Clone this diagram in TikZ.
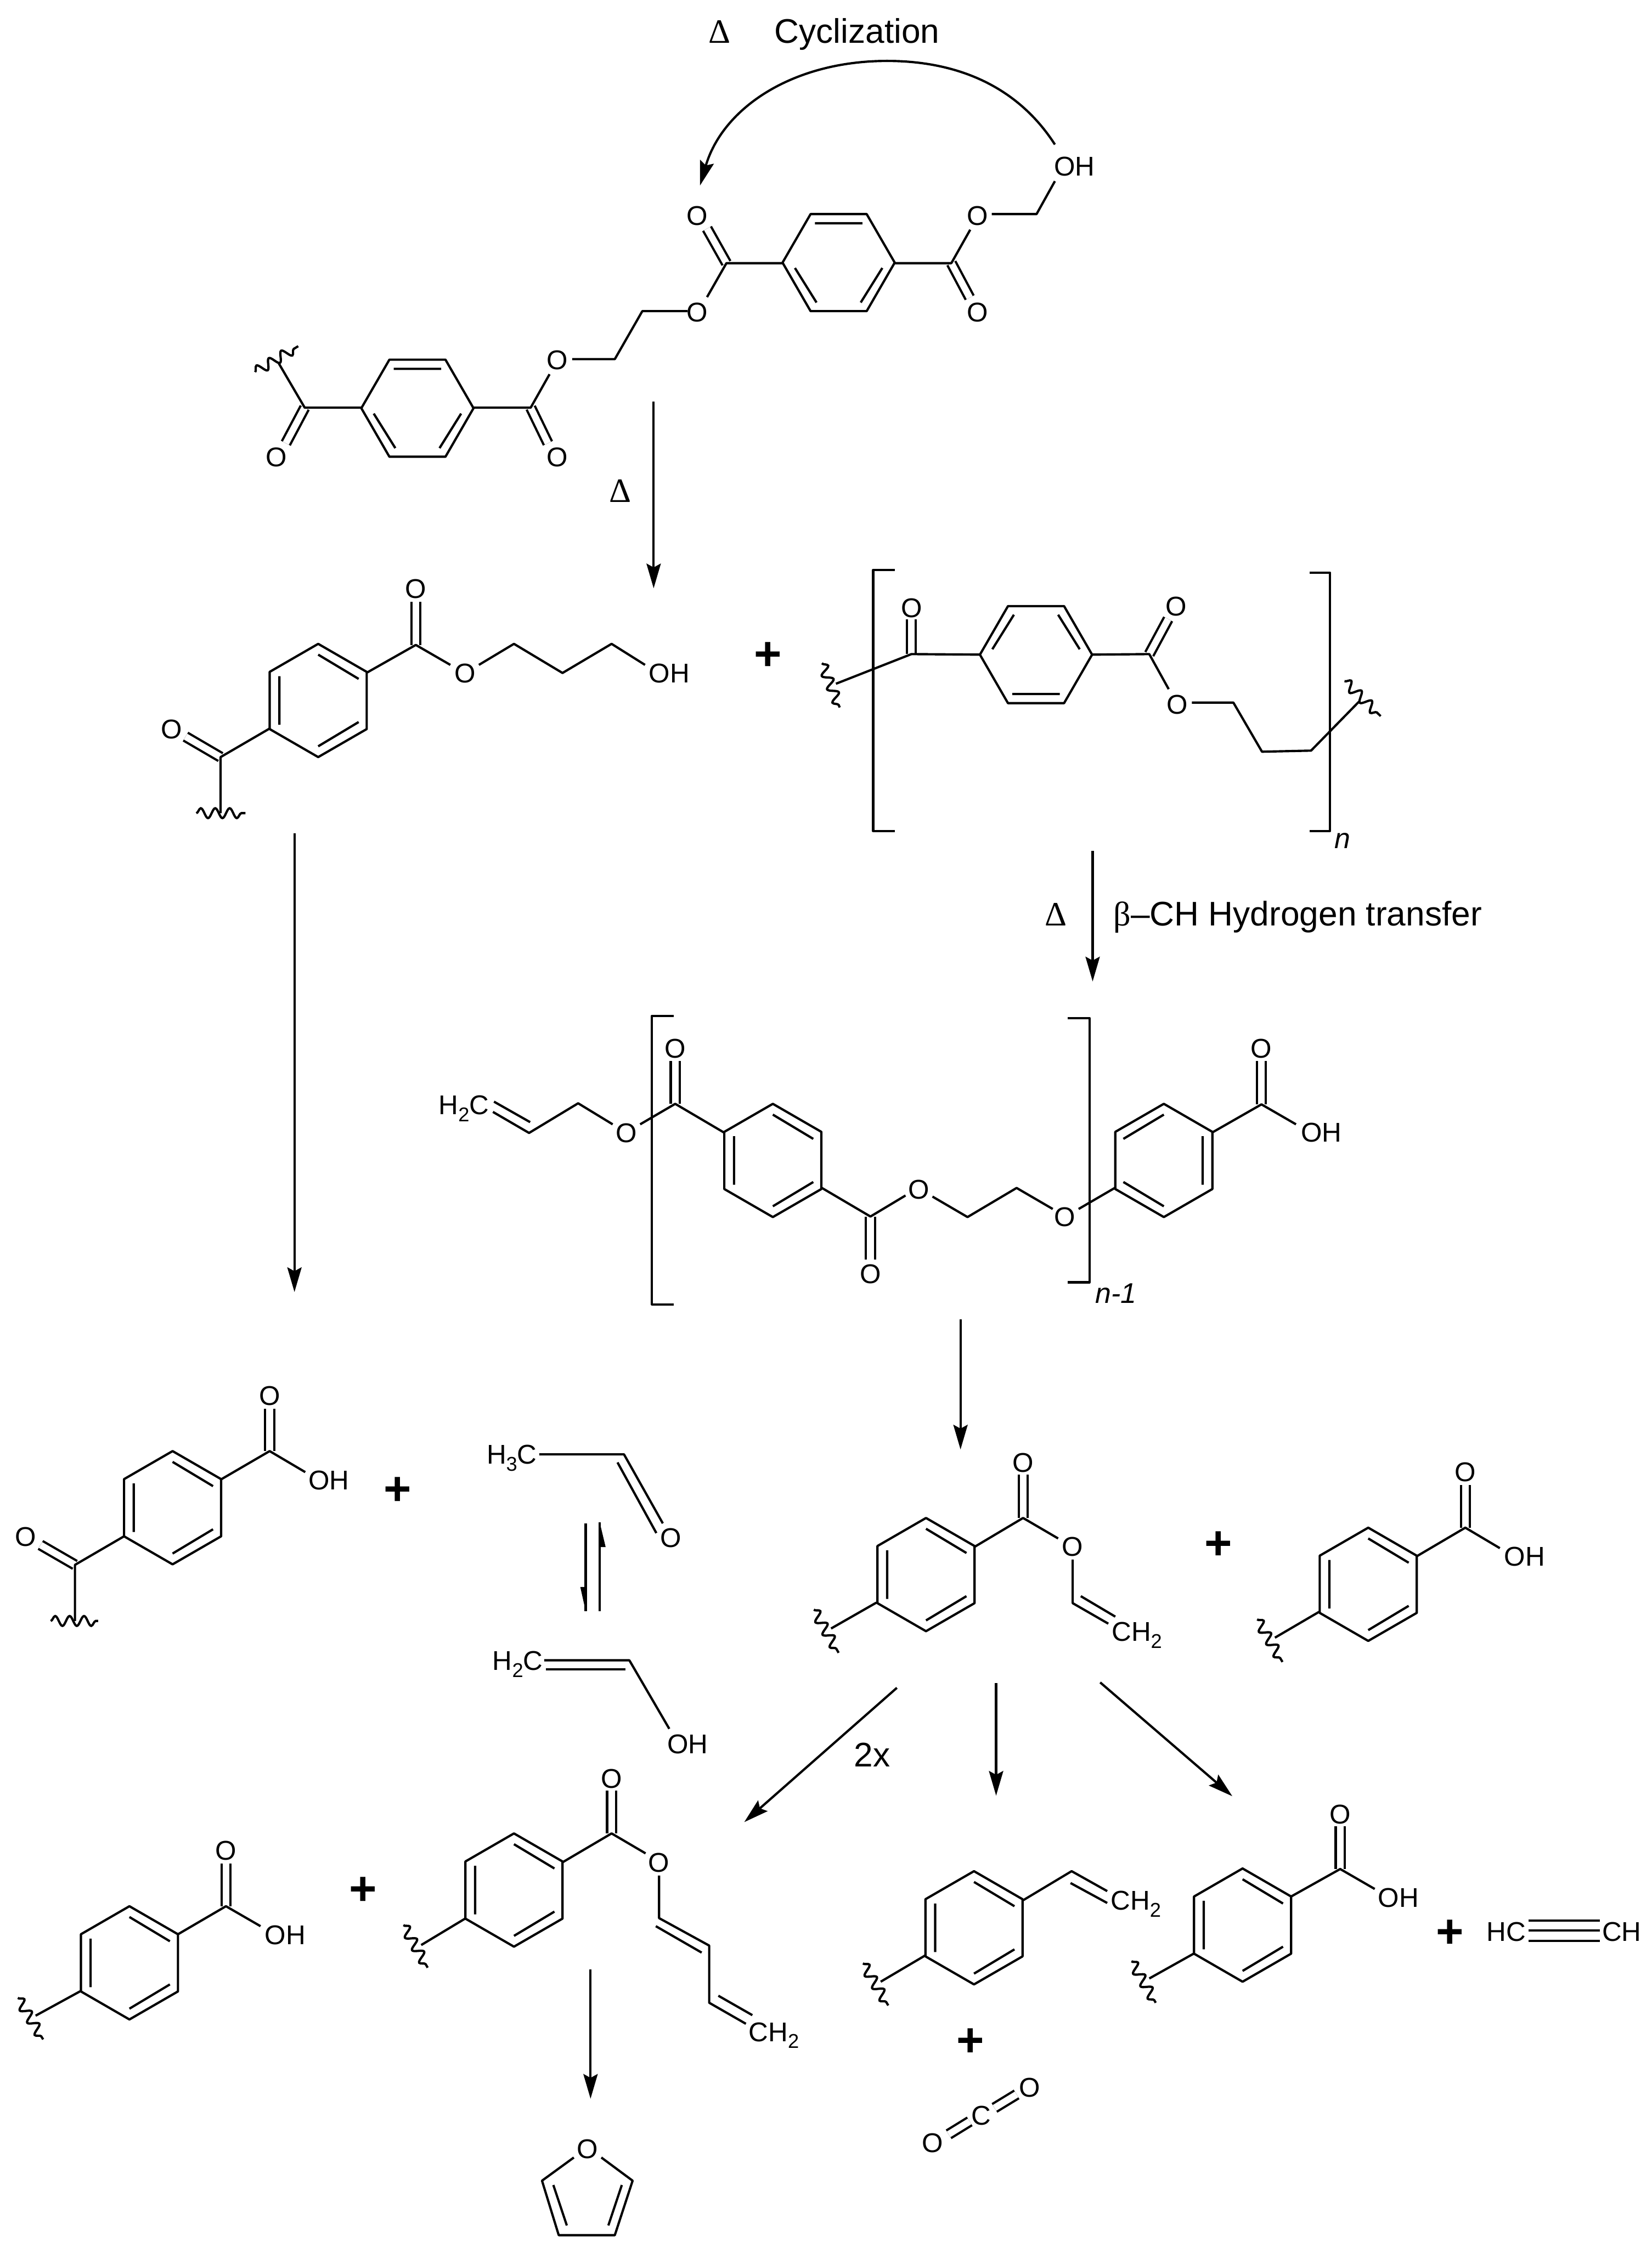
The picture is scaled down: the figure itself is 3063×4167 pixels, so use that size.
\documentclass[tikz,border=0pt]{standalone}
\usepackage{fontspec}
\setmainfont{Liberation Sans}
\newfontfamily\greekfont{Liberation Serif}
\usetikzlibrary{arrows.meta,decorations.pathmorphing}

\tikzset{
  bond/.style={line width=1.2pt,line join=round},
  dbl/.style={line width=1.2pt,double,double distance=3.5pt},
  wavy/.style={line width=1.2pt,decorate,decoration={snake,segment length=7.6pt,amplitude=2.6pt}},
  rxn/.style={line width=1.2pt,-{Stealth[length=13pt,width=7.5pt,inset=2pt]}},
  atom/.style={inner sep=0pt,font=\fontsize{14.3}{16}\selectfont,text height=10pt,text depth=0pt},
  caption/.style={inner sep=0pt,font=\fontsize{18}{20}\selectfont,text height=13pt,text depth=0pt},
  repeatno/.style={inner sep=0pt,font=\fontsize{15}{17}\selectfont\itshape},
  plussign/.style={inner sep=0pt,font=\fontsize{25}{25}\selectfont\bfseries}
}

% Subscript in atom labels
\newcommand{\lowidx}[1]{\raisebox{-3.7pt}{\fontsize{10.5}{12}\selectfont #1}}

% Benzene ring with corners on top and bottom
\newcommand{\ringup}[2]{
  \draw[bond] (#1,#2-105) -- (#1+90,#2-53) -- (#1+90,#2+53) -- (#1,#2+105) -- (#1-90,#2+53) -- (#1-90,#2-53) -- cycle;
  \draw[bond] (#1,#2-85) -- (#1+75,#2-40) (#1-72,#2-45) -- (#1-72,#2+45) (#1,#2+85) -- (#1+75,#2+40);
}
% Same ring, double bonds on the other side
\newcommand{\ringupflip}[2]{
  \draw[bond] (#1,#2-105) -- (#1+90,#2-53) -- (#1+90,#2+53) -- (#1,#2+105) -- (#1-90,#2+53) -- (#1-90,#2-53) -- cycle;
  \draw[bond] (#1,#2-85) -- (#1-75,#2-40) (#1+72,#2-45) -- (#1+72,#2+45) (#1,#2+85) -- (#1-75,#2+40);
}
% Benzene ring with corners left and right (#3 = 1: flat double bond on top, -1: below)
\newcommand{\ringflat}[3]{
  \draw[bond] (#1-104,#2) -- (#1-52,#2-90) -- (#1+52,#2-90) -- (#1+104,#2) -- (#1+52,#2+90) -- (#1-52,#2+90) -- cycle;
  \draw[bond] (#1-44,#2-#3*73) -- (#1+44,#2-#3*73) (#1-81,#2+#3*10) -- (#1-41,#2+#3*74) (#1+81,#2+#3*10) -- (#1+41,#2+#3*74);
}

\begin{document}
\begin{tikzpicture}[x=0.01cm,y=-0.01cm]
    \useasboundingbox (0,0) rectangle (3063,4167);

    % Top: cyclization label and curved arrow
    \node[caption] (deltatop) at (1334,57) {\greekfont Δ};
    \node[caption] (cyclabel) at (1589,57) {Cyclization};
    \coordinate (cycfrom) at (1956,268);
    \coordinate (cycto) at (1298,344);
    \draw[rxn] (cycfrom) .. controls (1880,150) and (1760,113) .. (1645,113) .. controls (1470,113) and (1340,200) .. (cycto);

    % Top molecule
    \ringflat{1555}{487}{1}
    \ringflat{774}{757}{1}
    \draw[dbl] (1347,488) -- (1311,424);
    \draw[dbl] (984,756) -- (1016,822);
    \draw[dbl] (565,756) -- (530,822);
    \draw[dbl] (1764,488) -- (1798,552);
    \draw[bond] (1451,488) -- (1347,488) -- (1311,551);
    \draw[bond] (1275,577) -- (1191,577) -- (1140,666) -- (1061,666);
    \draw[bond] (1019,694) -- (984,756) -- (877,756);
    \draw[bond] (670,756) -- (565,756) -- (517,674);
    \draw[wavy] (473,690) -- (553,642);
    \draw[bond] (1658,488) -- (1764,488) -- (1799,426);
    \draw[bond] (1839,397) -- (1922,397) -- (1956,336);
    \node[atom] (oa1) at (1293,400) {O};
    \node[atom] (oa2) at (1293,579) {O};
    \node[atom] (oa3) at (1033,668) {O};
    \node[atom] (oa4) at (1033,848) {O};
    \node[atom] (oa5) at (512,848) {O};
    \node[atom] (oa6) at (1813,400) {O};
    \node[atom] (oa7) at (1813,579) {O};
    \node[atom] (oha) at (1992,308) {OH};

    % First heating arrow
    \node[caption] (delta1) at (1150,908) {\greekfont Δ};
    \coordinate (top1) at (1212,745);
    \coordinate (tip1) at (1212,1091);
    \draw[rxn] (top1) -- (tip1);

    % Alcohol chain end
    \ringup{590}{1299}
    \draw[dbl] (771,1196) -- (771,1116);
    \draw[dbl] (409,1404) -- (344,1366);
    \draw[bond] (681,1247) -- (771,1196) -- (835,1233);
    \draw[bond] (888,1233) -- (953,1194) -- (1043,1248) -- (1134,1194) -- (1196,1233);
    \draw[bond] (500,1351) -- (409,1404) -- (409,1508);
    \draw[wavy] (364,1508) -- (455,1508);
    \node[atom] (ob1) at (771,1092) {O};
    \node[atom] (ob2) at (862,1248) {O};
    \node[atom] (ob3) at (318,1352) {O};
    \node[atom] (ohb) at (1241,1248) {OH};
    \node[plussign] (plus1) at (1424,1217) {+};

    % Bracketed repeat unit
    \ringflat{1921}{1214}{-1}
    \draw[bond] (1659,1057) -- (1619,1057) -- (1619,1541) -- (1659,1541);
    \draw[bond] (2428,1062) -- (2466,1062) -- (2466,1541) -- (2428,1541);
    \draw[dbl] (1690,1213) -- (1690,1149);
    \draw[dbl] (2131,1213) -- (2166,1148);
    \draw[bond] (1818,1214) -- (1690,1213) -- (1550,1268);
    \draw[wavy] (1524,1230) -- (1557,1312);
    \draw[bond] (2025,1214) -- (2131,1213) -- (2167,1278);
    \draw[bond] (2210,1303) -- (2287,1303) -- (2340,1394) -- (2431,1392) -- (2520,1301);
    \draw[wavy] (2493,1263) -- (2560,1328);
    \node[atom] (oc1) at (1690,1127) {O};
    \node[atom] (oc2) at (2181,1124) {O};
    \node[atom] (oc3) at (2183,1306) {O};
    \node[repeatno] (nlabel) at (2489,1559) {n};

    % Hydrogen transfer arrow
    \node[caption] (delta2) at (1958,1694) {\greekfont Δ};
    \node[caption,anchor=west] (translabel) at (2064,1694) {{\greekfont β}–CH Hydrogen transfer};
    \coordinate (top3) at (2026,1578);
    \coordinate (tip3) at (2026,1820);
    \draw[rxn] (top3) -- (tip3);

    % Vinyl ester oligomer
    \ringup{1433}{2152}
    \ringupflip{2158}{2152}
    \draw[bond] (1249,1884) -- (1209,1884) -- (1209,2419) -- (1249,2419);
    \draw[bond] (1980,1888) -- (2020,1888) -- (2020,2378) -- (1980,2378);
    \draw[dbl] (1252,2047) -- (1252,1968);
    \draw[dbl] (1614,2256) -- (1614,2336);
    \draw[dbl] (2339,2048) -- (2339,1968);
    \draw[bond] (916,2043) -- (983,2081);
    \draw[bond] (914,2062) -- (981,2101) -- (1072,2046) -- (1136,2085);
    \draw[bond] (1187,2085) -- (1252,2047) -- (1342,2100);
    \draw[bond] (1524,2203) -- (1614,2256) -- (1679,2217);
    \draw[bond] (1729,2219) -- (1794,2257) -- (1885,2203) -- (1952,2242);
    \draw[bond] (2000,2242) -- (2067,2203);
    \draw[bond] (2248,2100) -- (2339,2048) -- (2403,2085);
    \node[atom] (hcd) at (860,2049) {H\lowidx{2}C};
    \node[atom] (od1) at (1161,2101) {O};
    \node[atom] (od2) at (1252,1944) {O};
    \node[atom] (od3) at (1614,2362) {O};
    \node[atom] (od4) at (1704,2206) {O};
    \node[atom] (od5) at (1974,2257) {O};
    \node[atom] (od6) at (2339,1944) {O};
    \node[atom] (ohd) at (2450,2100) {OH};
    \node[repeatno] (nminus) at (2069,2399) {n-1};

    % Long arrow on the left, arrow below the oligomer
    \coordinate (top2) at (546,1545);
    \coordinate (tip2) at (546,2396);
    \draw[rxn] (top2) -- (tip2);
    \coordinate (top4) at (1781,2447);
    \coordinate (tip4) at (1781,2688);
    \draw[rxn] (top4) -- (tip4);

    % Acid chain end
    \ringup{320}{2796}
    \draw[dbl] (500,2691) -- (500,2612);
    \draw[dbl] (139,2902) -- (75,2865);
    \draw[bond] (409,2744) -- (500,2691) -- (566,2730);
    \draw[bond] (230,2849) -- (139,2902) -- (139,3006);
    \draw[wavy] (94,3006) -- (182,3006);
    \node[atom] (oe1) at (500,2588) {O};
    \node[atom] (oe2) at (48,2850) {O};
    \node[atom] (ohe) at (610,2745) {OH};
    \node[plussign] (plus2) at (737,2765) {+};

    % Acetaldehyde and vinyl alcohol
    \draw[bond] (1000,2697) -- (1157,2697) -- (1229,2825);
    \draw[bond] (1145,2712) -- (1217,2843);
    \draw[bond] (1086,2825) -- (1086,2988);
    \fill (1086,2988) -- (1076,2943) -- (1086,2943) -- cycle;
    \draw[bond] (1112,2988) -- (1112,2823);
    \fill (1112,2823) -- (1123,2869) -- (1112,2869) -- cycle;
    \draw[bond] (1012,3096) -- (1160,3096);
    \draw[bond] (1009,3079) -- (1167,3079) -- (1241,3206);
    \node[atom] (hcf1) at (949,2697) {H\lowidx{3}C};
    \node[atom] (of1) at (1244,2852) {O};
    \node[atom] (hcf2) at (960,3080) {H\lowidx{2}C};
    \node[atom] (ohf) at (1275,3234) {OH};

    % Vinyl ester and acid in the middle row
    \ringup{1717}{2920}
    \draw[dbl] (1897,2815) -- (1897,2735);
    \draw[bond] (1808,2868) -- (1897,2815) -- (1962,2853);
    \draw[bond] (1989,2892) -- (1989,2973) -- (2055,3011);
    \draw[bond] (2004,2960) -- (2068,2998);
    \draw[bond] (1625,2972) -- (1541,3020);
    \draw[wavy] (1509,2985) -- (1555,3065);
    \node[atom] (og1) at (1897,2712) {O};
    \node[atom] (og2) at (1989,2868) {O};
    \node[atom] (chg) at (2108,3026) {CH\lowidx{2}};
    \node[plussign] (plus3) at (2259,2866) {+};
    \ringup{2537}{2938}
    \draw[dbl] (2717,2833) -- (2717,2754);
    \draw[bond] (2627,2886) -- (2717,2833) -- (2781,2871);
    \draw[bond] (2446,2989) -- (2364,3037);
    \draw[wavy] (2331,3003) -- (2378,3082);
    \node[atom] (oh1) at (2717,2730) {O};
    \node[atom] (ohh) at (2827,2886) {OH};

    % Three arrows out of the vinyl ester
    \coordinate (top5) at (1663,3130);
    \coordinate (tip5) at (1380,3379);
    \draw[rxn] (top5) -- (tip5);
    \coordinate (top6) at (1847,3121);
    \coordinate (tip6) at (1847,3330);
    \draw[rxn] (top6) -- (tip6);
    \coordinate (top7) at (2040,3120);
    \coordinate (tip7) at (2285,3331);
    \draw[rxn] (top7) -- (tip7);
    \node[caption] (twox) at (1617,3253) {2x};

    % Bottom left acid
    \ringup{240}{3640}
    \draw[dbl] (419,3535) -- (419,3456);
    \draw[bond] (330,3587) -- (419,3535) -- (483,3572);
    \draw[bond] (150,3692) -- (66,3738);
    \draw[wavy] (33,3705) -- (80,3782);
    \node[atom] (oi1) at (419,3432) {O};
    \node[atom] (ohi) at (529,3588) {OH};
    \node[plussign] (plus4) at (673,3507) {+};

    % Butadienyl ester
    \ringup{953}{3505}
    \draw[dbl] (1134,3400) -- (1134,3321);
    \draw[bond] (1044,3453) -- (1134,3400) -- (1197,3437);
    \draw[bond] (1222,3478) -- (1222,3557) -- (1315,3608) -- (1315,3714) -- (1383,3753);
    \draw[bond] (1216,3572) -- (1301,3621);
    \draw[bond] (1332,3701) -- (1395,3737);
    \draw[bond] (864,3557) -- (781,3607);
    \draw[wavy] (748,3570) -- (793,3649);
    \node[atom] (oj1) at (1134,3298) {O};
    \node[atom] (oj2) at (1222,3454) {O};
    \node[atom] (chj) at (1435,3768) {CH\lowidx{2}};

    % Arrow to furan
    \coordinate (top8) at (1095,3652);
    \coordinate (tip8) at (1095,3892);
    \draw[rxn] (top8) -- (tip8);

    % Furan
    \draw[bond] (1064,4001) -- (1005,4044) -- (1036,4145) -- (1140,4145) -- (1173,4044) -- (1115,4001);
    \draw[bond] (1026,4052) -- (1051,4127);
    \draw[bond] (1153,4052) -- (1128,4127);
    \node[atom] (ofur) at (1089,3985) {O};

    % Styrene end and carbon dioxide
    \ringup{1806}{3575}
    \draw[bond] (1897,3524) -- (1987,3470) -- (2053,3507);
    \draw[bond] (1985,3492) -- (2053,3529);
    \draw[bond] (1716,3626) -- (1633,3675);
    \draw[wavy] (1600,3641) -- (1647,3719);
    \node[atom] (chk) at (2106,3524) {CH\lowidx{2}};
    \node[plussign] (plus5) at (1799,3788) {+};
    \draw[dbl] (1759,3958) -- (1798,3934);
    \draw[dbl] (1844,3909) -- (1885,3884);
    \node[atom] (ol1) at (1729,3974) {O};
    \node[atom] (cl) at (1819,3923) {C};
    \node[atom] (ol2) at (1909,3871) {O};

    % Acid and acetylene on the right
    \ringup{2304}{3570}
    \draw[dbl] (2485,3466) -- (2485,3387);
    \draw[bond] (2394,3517) -- (2485,3466) -- (2549,3503);
    \draw[bond] (2215,3622) -- (2131,3669);
    \draw[wavy] (2098,3637) -- (2143,3714);
    \node[atom] (om1) at (2485,3364) {O};
    \node[atom] (ohm) at (2593,3519) {OH};
    \node[plussign] (plus6) at (2688,3586) {+};
    \node[atom] (hcn) at (2793,3582) {HC};
    \node[atom] (chn) at (3007,3582) {CH};
    \draw[bond] (2834,3562) -- (2967,3562);
    \draw[bond] (2834,3580) -- (2967,3580);
    \draw[bond] (2834,3599) -- (2967,3599);
\end{tikzpicture}
\end{document}
